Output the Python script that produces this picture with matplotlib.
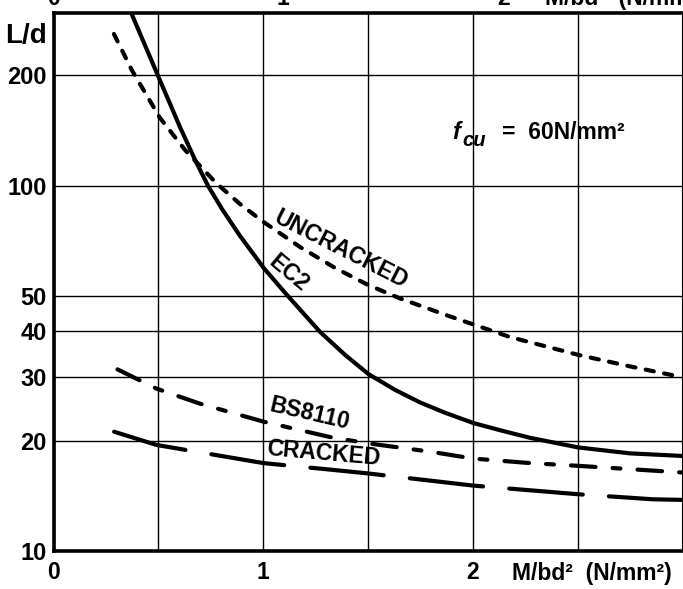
import numpy as np
import matplotlib.pyplot as plt
from matplotlib.ticker import NullLocator

# values (x = M/bd^2 in N/mm^2, y = L/d)
ec2_x = [0.370, 0.500, 0.603, 0.675, 0.737, 0.803, 0.889, 1.004, 1.106, 1.270,
         1.390, 1.501, 1.628, 1.747, 1.866, 2.001, 2.129, 2.272, 2.502, 2.748, 2.996]
ec2_y = [297, 198.5, 144.5, 117.5, 99.7, 86.3, 72.8, 59.3, 50.7, 39.8,
         34.4, 30.5, 27.6, 25.5, 23.9, 22.4, 21.4, 20.4, 19.2, 18.5, 18.2]

uncracked_x = [0.288, 0.373, 0.508, 0.627, 0.775, 0.889, 1.001, 1.175, 1.342,
               1.501, 1.652, 1.882, 2.176, 2.502, 2.748, 2.996]
uncracked_y = [259.8, 207.0, 153.0, 125.1, 101.6, 89.0, 79.5, 67.9, 59.5,
               53.4, 49.1, 44.0, 38.5, 34.4, 32.0, 29.9]

bs8110_x = [0.305, 0.492, 0.698, 1.000, 1.318, 1.500, 1.795, 2.001, 2.271, 2.502, 2.996]
bs8110_y = [31.4, 27.8, 25.3, 22.6, 20.5, 19.7, 18.7, 17.9, 17.4, 17.1, 16.4]

cracked_x = [0.289, 0.492, 1.000, 1.318, 1.500, 2.000, 2.500, 2.857, 3.000]
cracked_y = [21.2, 19.5, 17.4, 16.7, 16.3, 15.1, 14.3, 13.85, 13.8]

x_ticks = [0, 0.5, 1, 1.5, 2, 2.5, 3]
x_tick_labels = ['0', '', '1', '', '2', '', '']
y_ticks = [10, 20, 30, 40, 50, 100, 200]
y_tick_labels = ['10', '20', '30', '40', '50', '100', '200']

plt.rcParams['font.family'] = ['Liberation Sans', 'DejaVu Sans']
plt.rcParams['font.weight'] = 'bold'

W, H = 683, 589
fig = plt.figure(figsize=(W / 100, H / 100), dpi=100)
ax = fig.add_axes([53.5 / W, 38 / H, 629.3 / W, 538.5 / H])

ax.set_yscale('log')
ax.set_xlim(0, 3)
ax.set_ylim(10, 297.4)

ax.set_xticks(x_ticks, x_tick_labels)
ax.set_yticks(y_ticks, y_tick_labels)
ax.yaxis.set_minor_locator(NullLocator())
ax.tick_params(length=0)
ax.tick_params(axis='y', labelsize=17, pad=5)
ax.tick_params(axis='x', labelsize=16.5, pad=7)
ax.grid(True, color='black', lw=1.0)

for side in ['left', 'bottom', 'top']:
    ax.spines[side].set_linewidth(2.6)
ax.spines['right'].set_linewidth(1.5)

lw = 3.0
ax.plot(ec2_x, ec2_y, color='black', lw=lw, solid_capstyle='round',
        solid_joinstyle='round')
ax.plot(uncracked_x, uncracked_y, color='black', lw=lw,
        linestyle=(0, (2.0, 2.5)), dash_capstyle='round')
ax.plot(bs8110_x, bs8110_y, color='black', lw=lw,
        linestyle=(0, (5.9, 4.1, 1.9, 4.1)), dash_capstyle='round')
ax.plot(cracked_x, cracked_y, color='black', lw=lw,
        linestyle=(0, (17.7, 6.3)), dash_capstyle='round')

# curve labels
lab = dict(ha='center', va='center', rotation_mode='anchor', fontsize=16.5, fontweight='bold')
ax.text(1.371, 67.0, 'UNCRACKED', rotation=-27, **lab)
ax.text(1.119, 57.5, 'EC2', rotation=-40, **lab)
ax.text(1.223, 23.7, 'BS8110', rotation=-13, **lab)
ax.text(1.285, 18.5, 'CRACKED', rotation=-5, **lab)

# f_cu note
ax.text(1.90, 134, 'f', fontsize=17, fontstyle='italic', fontweight='bold',
        ha='left', va='baseline')
ax.text(1.951, 128.2, 'cu', fontsize=14.5, fontstyle='italic', fontweight='bold',
        ha='left', va='baseline')
ax.text(2.138, 134, '=  60N/mm²', fontsize=16.5, fontweight='bold',
        ha='left', va='baseline')

fig.text(5 / W, (H - 43.3) / H, 'L/d', fontsize=20, fontweight='bold',
         ha='left', va='baseline')
fig.text(511.7 / W, (H - 580) / H, 'M/bd²  (N/mm²)', fontsize=16.5,
         fontweight='bold', ha='left', va='baseline')

# clipped label row of the figure above, visible at the top edge
top_y = (H - 5) / H
fig.text(53 / W, top_y, '0', fontsize=16.5, ha='center', va='baseline')
fig.text(283 / W, top_y, '1', fontsize=16.5, ha='center', va='baseline')
fig.text(503.5 / W, top_y, '2', fontsize=16.5, ha='center', va='baseline')
fig.text(545 / W, top_y, 'M/bd²  (N/mm²)', fontsize=16.5, ha='left', va='baseline')

fig.savefig('out.png', dpi=100)
